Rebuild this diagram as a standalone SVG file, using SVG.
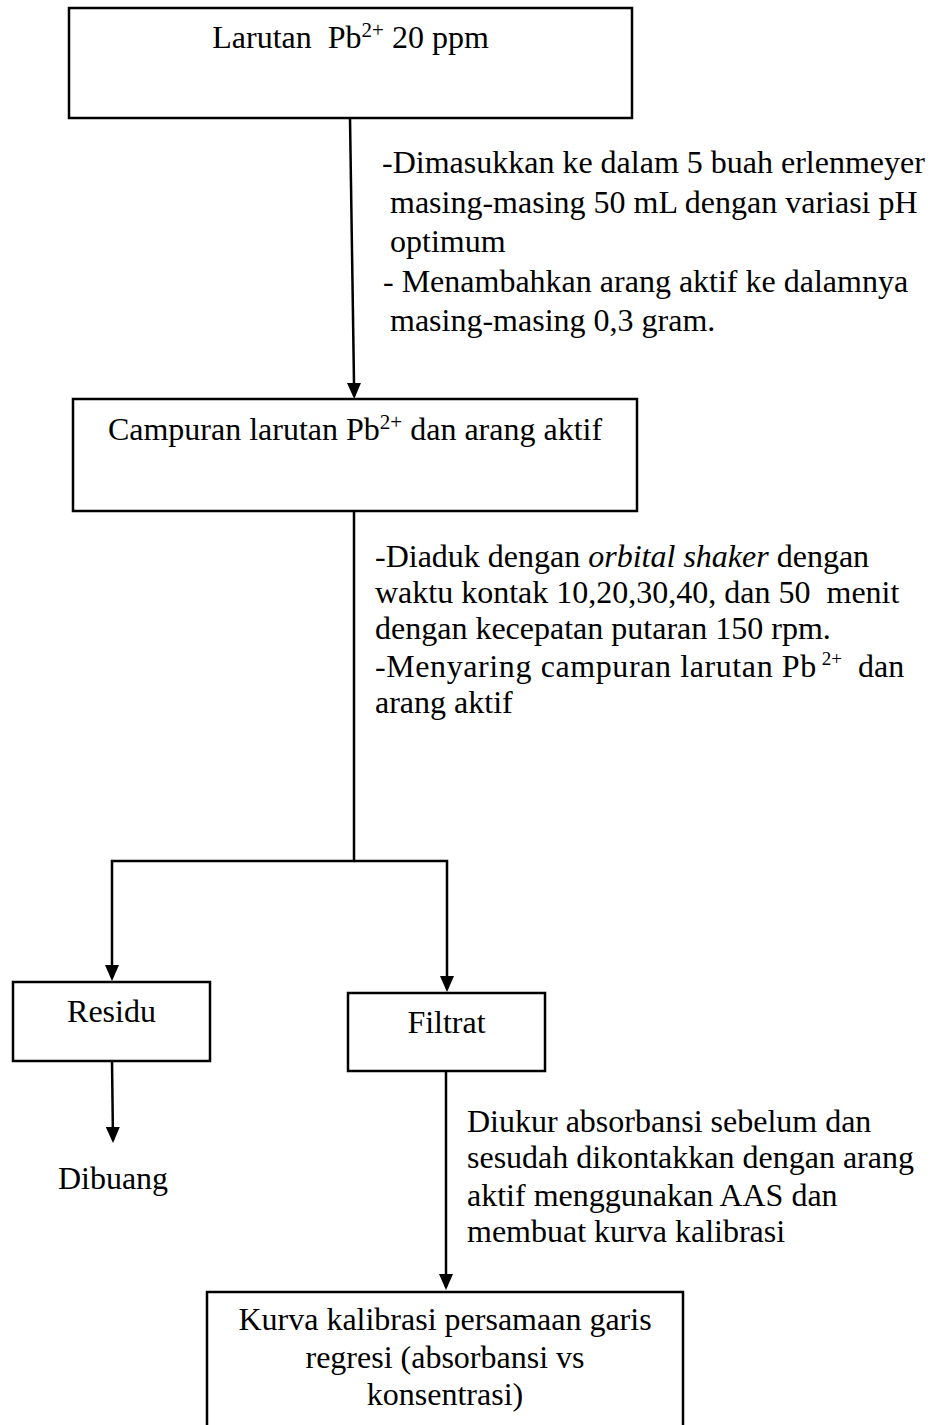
<svg xmlns="http://www.w3.org/2000/svg" width="935" height="1425" viewBox="0 0 935 1425">
<style>
.box{fill:#fff;stroke:#000;stroke-width:2.5}
.t{font-family:"Liberation Serif","Times New Roman",serif;font-size:32px;fill:#000}
.c{text-anchor:middle}
.sup{font-size:21px}
.conn{fill:none;stroke:#000;stroke-width:2.5}
</style>
<defs>
<marker id="ah" markerUnits="userSpaceOnUse" viewBox="0 0 16 14" markerWidth="16" markerHeight="14" refX="13" refY="7" orient="auto">
<path d="M0,0 L16,7 L0,14 z" fill="#000"/>
</marker>
</defs>
<rect width="935" height="1425" fill="#fff"/>
<g id="connectors">
<path class="conn" d="M350,118 L354.2,396" marker-end="url(#ah)"/>
<path class="conn" d="M354,511 V861 H112 V978" marker-end="url(#ah)"/>
<path class="conn" d="M354,861 H447 V989" marker-end="url(#ah)"/>
<path class="conn" d="M112,1061 L113,1140" marker-end="url(#ah)"/>
<path class="conn" d="M446,1071 V1287" marker-end="url(#ah)"/>
</g>
<g id="node-larutan">
<rect class="box" x="69" y="8" width="563" height="110"/>
<text class="t c" x="350.5" y="48" xml:space="preserve">Larutan  Pb<tspan class="sup" dy="-11">2+</tspan><tspan dy="11"> 20 ppm</tspan></text>
</g>
<g id="label-1">
<text class="t" x="382" y="173">-Dimasukkan ke dalam 5 buah erlenmeyer</text>
<text class="t" x="390" y="213">masing-masing 50 mL dengan variasi pH</text>
<text class="t" x="390" y="252">optimum</text>
<text class="t" x="383" y="292">- Menambahkan arang aktif ke dalamnya</text>
<text class="t" x="390" y="331">masing-masing 0,3 gram.</text>
</g>
<g id="node-campuran">
<rect class="box" x="73" y="399" width="564" height="112"/>
<text class="t c" x="355" y="440">Campuran larutan Pb<tspan class="sup" dy="-11">2+</tspan><tspan dy="11"> dan arang aktif</tspan></text>
</g>
<g id="label-2">
<text class="t" x="375" y="567">-Diaduk dengan <tspan font-style="italic">orbital shaker</tspan> dengan</text>
<text class="t" x="375" y="603" xml:space="preserve">waktu kontak 10,20,30,40, dan 50  menit</text>
<text class="t" x="375" y="639">dengan kecepatan putaran 150 rpm.</text>
<text class="t" x="375" y="677"><tspan letter-spacing="0.6">-Menyaring campuran larutan Pb</tspan><tspan font-size="19" dx="5" dy="-12">2+</tspan><tspan dx="8" dy="12"> dan</tspan></text>
<text class="t" x="375" y="713">arang aktif</text>
</g>
<g id="node-residu">
<rect class="box" x="13" y="982" width="197" height="79"/>
<text class="t c" x="111.5" y="1022">Residu</text>
</g>
<g id="node-dibuang">
<text class="t c" x="113" y="1189">Dibuang</text>
</g>
<g id="node-filtrat">
<rect class="box" x="348" y="993" width="197" height="78"/>
<text class="t c" x="446.5" y="1033">Filtrat</text>
</g>
<g id="label-3">
<text class="t" x="467" y="1132">Diukur absorbansi sebelum dan</text>
<text class="t" x="467" y="1168">sesudah dikontakkan dengan arang</text>
<text class="t" x="467" y="1206">aktif menggunakan AAS dan</text>
<text class="t" x="467" y="1242">membuat kurva kalibrasi</text>
</g>
<g id="node-kurva">
<rect class="box" x="207" y="1292" width="476" height="150"/>
<text class="t c" x="445" y="1330">Kurva kalibrasi persamaan garis</text>
<text class="t c" x="445" y="1368">regresi (absorbansi vs</text>
<text class="t c" x="445" y="1405">konsentrasi)</text>
</g>
</svg>
